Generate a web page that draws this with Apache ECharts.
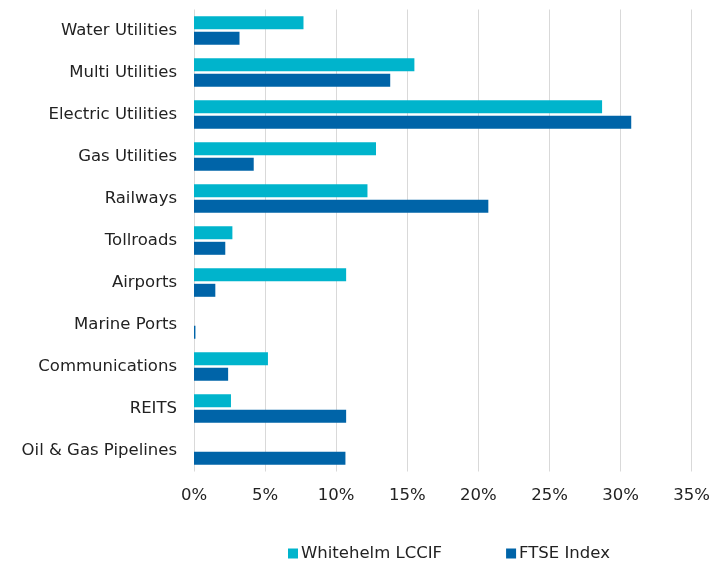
<!DOCTYPE html>
<html><head><meta charset="utf-8">
<script src="https://cdn.jsdelivr.net/npm/echarts@6/dist/echarts.min.js"></script>
<style>html,body{margin:0;padding:0;background:#fff}#c{width:713px;height:565px}</style>
</head><body><div id="c"></div>
<script>
const categories = ["Water Utilities","Multi Utilities","Electric Utilities","Gas Utilities","Railways","Tollroads","Airports","Marine Ports","Communications","REITS","Oil & Gas Pipelines"];
const lccif = [7.7, 15.5, 28.7, 12.8, 12.2, 2.7, 10.7, 0, 5.2, 2.6, 0];
const ftse = [3.2, 13.8, 30.75, 4.2, 20.7, 2.2, 1.5, 0.1, 2.4, 10.7, 10.65];
const xTicks = [0, 5, 10, 15, 20, 25, 30, 35];

const font = "'DejaVu Sans', sans-serif";
const chart = echarts.init(document.getElementById('c'));
chart.setOption({
  animation: false,
  textStyle: { fontFamily: font },
  grid: { left: 194, right: 17, top: 9.5, bottom: 93.5, containLabel: false },
  legend: {
    top: 540, left: 283,
    itemWidth: 10, itemHeight: 10, itemGap: 64,
    icon: 'rect',
    textStyle: { fontSize: 16.5, color: '#222', fontFamily: font, padding: [0, 0, 0, -2] },
    data: ['Whitehelm LCCIF', 'FTSE Index']
  },
  xAxis: {
    type: 'value', min: xTicks[0], max: xTicks[xTicks.length-1], interval: 5,
    axisLine: { show: false }, axisTick: { show: false },
    splitLine: { lineStyle: { color: '#d9d9d9', width: 1 } },
    axisLabel: { formatter: v => v + '%', fontSize: 16.5, color: '#222', margin: 16, fontFamily: font }
  },
  yAxis: {
    type: 'category', data: categories, inverse: true,
    axisLine: { show: false }, axisTick: { show: false },
    axisLabel: { fontSize: 16.5, color: '#222', margin: 17, fontFamily: font }
  },
  series: [
    { name: 'Whitehelm LCCIF', type: 'bar', data: lccif, barWidth: 13, barGap: '20%',
      itemStyle: { color: '#00B4CC' } },
    { name: 'FTSE Index', type: 'bar', data: ftse, barWidth: 13,
      itemStyle: { color: '#0064A8' } }
  ]
});
</script></body></html>
